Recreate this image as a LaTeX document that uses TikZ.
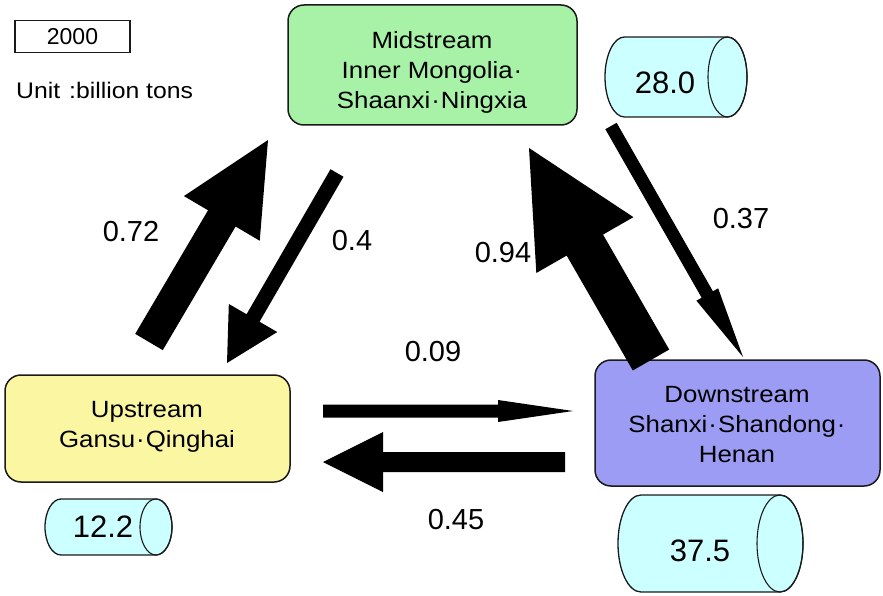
\documentclass[tikz,border=0pt]{standalone}
\usepackage{fontspec}
\setmainfont{Liberation Sans}
\newfontfamily\widefont[FakeStretch=1.1]{Liberation Sans}
\usetikzlibrary{calc}
\definecolor{midgreen}{HTML}{A8F2A8}
\definecolor{upyellow}{HTML}{FAF6A2}
\definecolor{downblue}{HTML}{9C9CF5}
\definecolor{cylcyan}{HTML}{CCFFFF}
\definecolor{edgegray}{HTML}{1A1A1A}
\newcommand\blockarrow[6]{% name, tail, tip, half shaft, half head, head length
  \coordinate (#1-h) at ($(#3)!#6!(#2)$);
  \fill[black] ($(#2)!#4!90:(#3)$) -- ($(#1-h)!#4!90:(#3)$) -- ($(#1-h)!#5!90:(#3)$)
     -- (#3) -- ($(#1-h)!#5!-90:(#3)$) -- ($(#1-h)!#4!-90:(#3)$) -- ($(#2)!#4!-90:(#3)$) -- cycle;
}
\newcommand\drumshape[6]{% name, x0, y0, x1, y1, rx
  \pgfmathsetmacro\drumry{(#5-#3)/2}
  \pgfmathsetmacro\drumyc{(#5+#3)/2}
  \pgfmathsetmacro\drumxl{#2+#6}
  \pgfmathsetmacro\drumxr{#4-#6}
  \filldraw[fill=cylcyan, draw=edgegray, line width=1.3pt]
    (\drumxl,#3) -- (\drumxr,#3) arc[start angle=90, end angle=-90, x radius=#6, y radius=-\drumry]
    -- (\drumxl,#5) arc[start angle=270, end angle=90, x radius=#6, y radius=-\drumry] -- cycle;
  \draw[edgegray, line width=1.1pt] (\drumxr,\drumyc) ellipse[x radius=#6, y radius=\drumry];
  \coordinate (#1) at ({(#2+#4)/2 - #6/2},\drumyc);
}
\begin{document}
\begin{tikzpicture}[x=1pt,y=-1pt,
  regionbox/.style={draw=edgegray, line width=1.5pt, rounded corners=16pt, inner sep=0pt},
  regiontext/.style={align=center, font=\widefont\fontsize{23.5}{30}\selectfont, inner sep=0pt},
  flowlabel/.style={font=\fontsize{29}{34}\selectfont, inner sep=0pt},
  stocklabel/.style={font=\fontsize{31}{36}\selectfont, inner sep=0pt}]
\useasboundingbox (0,0) rectangle (883,596);

% legend
\node[draw=edgegray, line width=1.3pt, minimum width=115pt, minimum height=32pt, inner sep=0pt,
      font=\fontsize{23}{26}\selectfont] (year) at (72.5,36.5) {2000};
\node[anchor=west, inner sep=0pt, font=\widefont\fontsize{22.5}{26}\selectfont] (unit) at (16,90)
      {Unit\hspace{9pt}:billion tons};

% region boxes
\node[regionbox, fill=midgreen, minimum width=289pt, minimum height=120pt] (mid) at (432.5,65) {};
\node[regiontext] (midtext) at (432,72) {Midstream\\Inner Mongolia\kern1pt·\\Shaanxi\kern1pt·\kern1pt Ningxia};
\node[regionbox, fill=upyellow, minimum width=285pt, minimum height=107pt] (up) at (147.5,428.5) {};
\node[regiontext] (uptext) at (147,427) {Upstream\\Gansu\kern1pt·\kern1pt Qinghai};
\node[regionbox, fill=downblue, minimum width=285pt, minimum height=126pt] (down) at (737.5,423) {};
\node[regiontext] (downtext) at (737,425) {Downstream\\Shanxi\kern1pt·\kern1pt Shandong\kern1pt·\\Henan};

% stocks
\drumshape{midstock}{605}{37}{747}{117}{19.5}
\node[stocklabel] (midval) at (665,83) {28.0};
\drumshape{upstock}{45}{499}{172}{555}{16}
\node[stocklabel] (upval) at (103,527) {12.2};
\drumshape{downstock}{618}{495}{803}{592}{23}
\node[stocklabel] (downval) at (700,551) {37.5};

% flow arrows
\coordinate (a1t) at (149,342); \coordinate (a1h) at (268,140);
\blockarrow{ua}{a1t}{a1h}{16pt}{44pt}{91pt}
\coordinate (a2t) at (337,173); \coordinate (a2h) at (227,363);
\blockarrow{mu}{a2t}{a2h}{7.5pt}{28pt}{52pt}
\coordinate (a3t) at (651,360); \coordinate (a3h) at (529,148);
\blockarrow{dm}{a3t}{a3h}{21pt}{56pt}{112pt}
\coordinate (a4t) at (611,126); \coordinate (a4h) at (743,357);
\blockarrow{md}{a4t}{a4h}{6.5pt}{12.5pt}{72pt}
\coordinate (a5t) at (323,411); \coordinate (a5h) at (573,411);
\blockarrow{ud}{a5t}{a5h}{6.5pt}{11pt}{75pt}
\coordinate (a6t) at (565,462); \coordinate (a6h) at (323,462);
\blockarrow{du}{a6t}{a6h}{10pt}{30pt}{60pt}

% flow labels
\node[flowlabel] (l1) at (131,232) {0.72};
\node[flowlabel] (l2) at (352,241) {0.4};
\node[flowlabel] (l3) at (503,253) {0.94};
\node[flowlabel] (l4) at (741,219) {0.37};
\node[flowlabel] (l5) at (433,352) {0.09};
\node[flowlabel] (l6) at (456,520) {0.45};
\end{tikzpicture}
\end{document}
